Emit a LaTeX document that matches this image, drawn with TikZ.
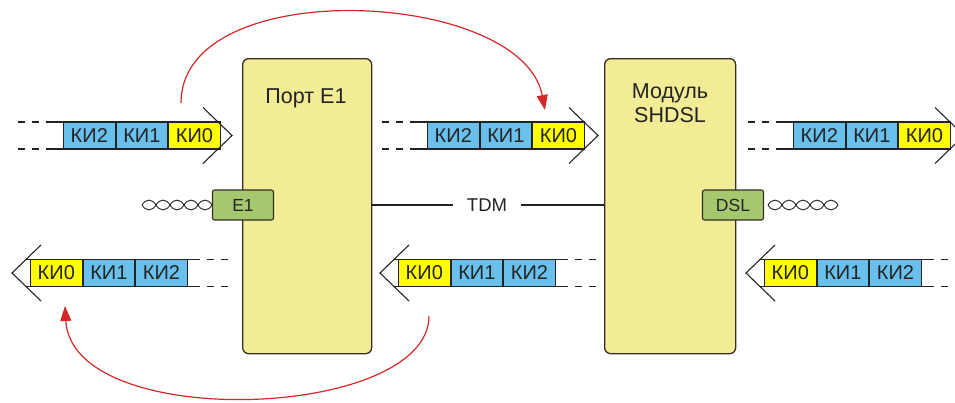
\documentclass[tikz,border=0pt]{standalone}
\usepackage{fontspec}
\setmainfont{Liberation Sans}
\usetikzlibrary{arrows.meta}
\definecolor{boxyellow}{RGB}{243,236,150}
\definecolor{boxedge}{RGB}{55,45,35}
\definecolor{cellblue}{RGB}{105,192,236}
\definecolor{cellyellow}{RGB}{255,255,0}
\definecolor{portgreen}{RGB}{165,200,110}
\definecolor{arcred}{RGB}{212,40,40}
\definecolor{txt}{RGB}{35,35,35}
\tikzset{
  bigbox/.style={draw=boxedge, line width=1.3pt, fill=boxyellow, rounded corners=6pt},
  cell/.style={draw=txt, line width=1.1pt, minimum width=51.5pt, minimum height=27pt,
    inner sep=0pt, anchor=west, text=txt, font=\fontsize{20}{23}\selectfont},
  bluecell/.style={cell, fill=cellblue},
  ylwcell/.style={cell, fill=cellyellow},
  wire/.style={draw=txt, line width=1.1pt},
  chev/.style={draw=txt, line width=1.1pt},
  iface/.style={draw=boxedge, line width=1.1pt, fill=portgreen, rounded corners=2pt,
    minimum width=61pt, minimum height=30pt, inner sep=0pt, text=txt,
    font=\fontsize{17.5}{20}\selectfont},
  twist/.style={draw=txt, line width=0.9pt},
  arc/.style={draw=arcred, line width=1.2pt, -{Triangle[length=15pt,width=11pt]}},
  label/.style={text=txt, align=center, font=\fontsize{21.5}{24}\selectfont}
}
\begin{document}
\begin{tikzpicture}[x=1pt,y=-1pt]
\useasboundingbox (0,0) rectangle (955,402);
% main boxes
\node[bigbox, minimum width=129pt, minimum height=295pt, anchor=north west] (port) at (242,58) {};
\node[bigbox, minimum width=131pt, minimum height=295pt, anchor=north west] (mod) at (604,58) {};
\node[label] (portlbl) at (306,98) {Порт E1};
\node[label] (modlbl) at (670,103) {Модуль\\SHDSL};
% TDM line
\node[text=txt, font=\fontsize{18.5}{22}\selectfont] (tdm) at (487,205) {TDM};
\coordinate (pe) at (371,205);
\coordinate (mw) at (604,205);
\draw[wire] (pe) -- ([xshift=-10pt]tdm.west);
\draw[wire] ([xshift=10pt]tdm.east) -- (mw);
% interface boxes
\node[iface] (e1) at (243,205) {E1};
\node[iface] (dsl) at (733,205) {DSL};
% twisted pairs
\foreach \i in {0,...,4}{
  \draw[twist] ({142+14*\i},205) .. controls ({142+14*\i+4},198.5) and ({142+14*\i+10},198.5) .. ({142+14*\i+14},205);
  \draw[twist] ({142+14*\i},205) .. controls ({142+14*\i+4},211.5) and ({142+14*\i+10},211.5) .. ({142+14*\i+14},205);
}
\foreach \i in {0,...,4}{
  \draw[twist] ({768+14*\i},205) .. controls ({768+14*\i+4},198.5) and ({768+14*\i+10},198.5) .. ({768+14*\i+14},205);
  \draw[twist] ({768+14*\i},205) .. controls ({768+14*\i+4},211.5) and ({768+14*\i+10},211.5) .. ({768+14*\i+14},205);
}
% ---------- right-pointing rows ----------
% Row A
\node[bluecell] (a2) at (63,135.5) {КИ2};
\node[bluecell] (a1) at (a2.east) {КИ1};
\node[ylwcell] (a0) at (a1.east) {КИ0};
\foreach \yy in {122,149}{
  \draw[wire] (18,\yy) -- (25,\yy) (32,\yy) -- (39,\yy) (46,\yy) -- (63,\yy) (217,\yy) -- (218,\yy);
}
\coordinate (atip) at (232,135.5);
\draw[chev] (203,107.5) -- (atip) -- (203,163.5);
% Row B
\node[bluecell] (b2) at (427,135.5) {КИ2};
\node[bluecell] (b1) at (b2.east) {КИ1};
\node[ylwcell] (b0) at (b1.east) {КИ0};
\foreach \yy in {122,149}{
  \draw[wire] (382,\yy) -- (389,\yy) (396,\yy) -- (403,\yy) (410,\yy) -- (427,\yy) (581,\yy) -- (584,\yy);
}
\coordinate (btip) at (598,135.5);
\draw[chev] (569,107.5) -- (btip) -- (569,163.5);
% Row C
\node[bluecell] (c2) at (793,135.5) {КИ2};
\node[bluecell] (c1) at (c2.east) {КИ1};
\node[ylwcell] (c0) at (c1.east) {КИ0};
\foreach \yy in {122,149}{
  \draw[wire] (748,\yy) -- (755,\yy) (762,\yy) -- (769,\yy) (776,\yy) -- (793,\yy) (947,\yy) -- (950,\yy);
}
\coordinate (ctip) at (964,135.5);
\draw[chev] (935,107.5) -- (ctip) -- (935,163.5);
% ---------- left-pointing rows ----------
% Row D
\node[ylwcell] (d0) at (30,273) {КИ0};
\node[bluecell] (d1) at (d0.east) {КИ1};
\node[bluecell] (d2) at (d1.east) {КИ2};
\foreach \yy in {259.5,286.5}{
  \draw[wire] (26,\yy) -- (30,\yy) (184.5,\yy) -- (200,\yy) (207,\yy) -- (214,\yy) (221,\yy) -- (228,\yy);
}
\coordinate (dtip) at (12,273);
\draw[chev] (41,245) -- (dtip) -- (41,301);
% Row E
\node[ylwcell] (e0) at (398,273) {КИ0};
\node[bluecell] (e1c) at (e0.east) {КИ1};
\node[bluecell] (e2) at (e1c.east) {КИ2};
\foreach \yy in {259.5,286.5}{
  \draw[wire] (394,\yy) -- (398,\yy) (552.5,\yy) -- (568,\yy) (575,\yy) -- (582,\yy) (589,\yy) -- (596,\yy);
}
\coordinate (etip) at (380,273);
\draw[chev] (409,245) -- (etip) -- (409,301);
% Row F
\node[ylwcell] (f0) at (764,273) {КИ0};
\node[bluecell] (f1) at (f0.east) {КИ1};
\node[bluecell] (f2) at (f1.east) {КИ2};
\foreach \yy in {259.5,286.5}{
  \draw[wire] (760,\yy) -- (764,\yy) (918.5,\yy) -- (934,\yy) (941,\yy) -- (948,\yy) (955,\yy) -- (962,\yy);
}
\coordinate (ftip) at (746,273);
\draw[chev] (775,245) -- (ftip) -- (775,301);
% ---------- red arcs ----------
\coordinate (topstart) at (181,103);
\coordinate (topend) at (545,110);
\draw[arc] (topstart) .. controls (181,-27) and (522,-11) .. (topend);
\coordinate (botstart) at (429,316);
\coordinate (botend) at (65,306);
\draw[arc] (botstart) .. controls (429,420) and (72,433) .. (botend);
\end{tikzpicture}
\end{document}
